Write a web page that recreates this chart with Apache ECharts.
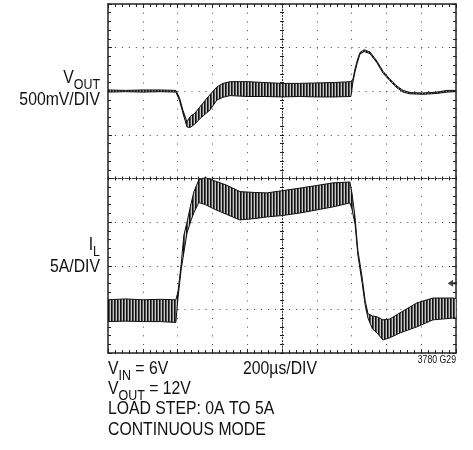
<!DOCTYPE html>
<html>
<head>
<meta charset="utf-8">
<script src="https://cdn.jsdelivr.net/npm/echarts@6/dist/echarts.min.js"></script>
<style>
  html, body { margin: 0; padding: 0; background: #fff; }
  #chart { width: 473px; height: 450px; }
</style>
</head>
<body>
<div id="chart"></div>
<script>
// scope screen: time in divisions (200us/div), level in divisions from the bottom
// each trace is read as a lower and upper envelope of its switching ripple
const voutTime = [0, 0.5, 1.0, 1.5, 1.95, 2.05, 2.16, 2.27, 2.36, 2.5, 2.64, 2.8, 2.93, 3.13, 3.3, 3.51, 4.0, 4.5, 5.0, 5.5, 6.0, 6.5, 6.98, 7.04, 7.10, 7.16, 7.24, 7.36, 7.53, 7.73, 7.90, 8.10, 8.30, 8.48, 8.68, 9.05, 9.45, 9.74, 10];
const voutLow  = [5.98, 5.99, 5.98, 5.99, 5.98, 5.80, 5.48, 5.18, 5.17, 5.25, 5.37, 5.48, 5.57, 5.80, 5.86, 5.90, 5.88, 5.88, 5.87, 5.88, 5.87, 5.87, 5.88, 6.22, 6.45, 6.64, 6.85, 6.91, 6.86, 6.65, 6.42, 6.24, 6.08, 5.98, 5.94, 5.93, 5.95, 5.98, 5.99];
const voutHigh = [6.03, 6.02, 6.03, 6.03, 6.02, 5.86, 5.55, 5.30, 5.42, 5.50, 5.64, 5.80, 5.92, 6.10, 6.18, 6.22, 6.22, 6.20, 6.18, 6.18, 6.19, 6.20, 6.22, 6.28, 6.52, 6.70, 6.89, 6.95, 6.90, 6.69, 6.46, 6.28, 6.12, 6.02, 5.97, 5.96, 5.98, 6.02, 6.02];

const ilTime = [0, 0.5, 1.0, 1.5, 1.95, 2.01, 2.10, 2.18, 2.27, 2.39, 2.47, 2.61, 2.8, 3.05, 3.4, 3.79, 4.2, 4.57, 5.0, 5.52, 6.0, 6.47, 6.95, 7.01, 7.10, 7.18, 7.30, 7.39, 7.47, 7.60, 7.73, 7.90, 8.1, 8.39, 8.88, 9.34, 9.91, 10];
const ilLow  = [0.72, 0.73, 0.72, 0.72, 0.70, 1.25, 1.90, 2.30, 2.75, 3.05, 3.22, 3.45, 3.40, 3.30, 3.18, 3.05, 3.08, 3.12, 3.15, 3.21, 3.28, 3.35, 3.44, 3.30, 2.95, 2.25, 1.62, 1.10, 0.80, 0.55, 0.46, 0.30, 0.35, 0.46, 0.60, 0.76, 0.80, 0.80];
const ilHigh = [1.22, 1.24, 1.22, 1.23, 1.22, 1.40, 2.02, 2.70, 3.00, 3.44, 3.70, 3.97, 4.02, 3.95, 3.85, 3.70, 3.68, 3.67, 3.72, 3.78, 3.84, 3.90, 3.92, 3.67, 3.10, 2.35, 1.75, 1.20, 0.90, 0.85, 0.83, 0.76, 0.78, 0.92, 1.15, 1.26, 1.26, 1.25];

const groundMarker = [9.89, 1.6];

// striped fill so the ripple band reads like a dense trace
const hatch = document.createElement('canvas');
hatch.width = 3;
hatch.height = 1;
const hctx = hatch.getContext('2d');
['#111', '#555', '#c8c8c8'].forEach((c, i) => {
  hctx.fillStyle = c;
  hctx.fillRect(i, 0, 1, 1);
});
const ripplePattern = { type: 'pattern', image: hatch, repeat: 'repeat' };

// band between the envelopes, drawn as one polygon through the axes
function band(time, low, high) {
  return {
    type: 'custom',
    silent: true,
    animation: false,
    data: time.map((t, k) => [t, low[k], high[k]]),
    renderItem(params, api) {
      if (params.dataIndexInside !== 0) return null;
      const n = params.dataInsideLength;
      const pts = [];
      for (let k = 0; k < n; k++) pts.push(api.coord([api.value(0, k), api.value(2, k)]));
      for (let k = n - 1; k >= 0; k--) pts.push(api.coord([api.value(0, k), api.value(1, k)]));
      return { type: 'polygon', shape: { points: pts }, style: { fill: ripplePattern, stroke: null } };
    }
  };
}

function edge(time, values) {
  return {
    type: 'line', symbol: 'none', silent: true, animation: false,
    data: time.map((t, k) => [t, values[k]]),
    lineStyle: { color: '#111', width: 1 }
  };
}

const frameLine = { show: true, onZero: false, lineStyle: { color: '#222', width: 1.5 } };
const centerLineX = { show: true, onZero: false, lineStyle: { color: '#333', width: 1, type: [2, 1.48] } };
const centerLineY = { show: true, onZero: false, lineStyle: { color: '#333', width: 1, type: [1, 1.9] } };
const tickStyle = { color: '#222', width: 1 };

function axis(extra) {
  return Object.assign({
    type: 'value',
    axisLabel: { show: false },
    axisTick: { show: true, inside: true, length: 4, lineStyle: tickStyle },
    minorTick: { show: true, splitNumber: 5, length: 3, lineStyle: tickStyle },
    splitLine: { show: false }
  }, extra);
}

const xRange = { min: 0, max: 10, interval: 1 };
const yRange = { min: 0, max: 8, interval: 1 };
const centerTicks = { show: true, inside: true, length: 2, lineStyle: tickStyle };

const sans = "'Liberation Sans', Arial, sans-serif";
const rich = {
  m: { fontSize: 19, fontFamily: sans, lineHeight: 24, verticalAlign: 'top', fill: '#111' },
  s: { fontSize: 15, fontFamily: sans, lineHeight: 24, verticalAlign: 'bottom', fill: '#111' }
};
function label(text, x, y, align) {
  return {
    type: 'text', x: x, y: y, scaleX: 0.83, silent: true,
    style: { text: text, rich: rich, align: align || 'left', textAlign: align || 'left', verticalAlign: 'top', textVerticalAlign: 'top', fill: '#111' }
  };
}

const chart = echarts.init(document.getElementById('chart'));
chart.setOption({
  backgroundColor: '#fff',
  animation: false,
  grid: { left: 108, top: 4, width: 348, height: 349 },
  xAxis: [
    axis(Object.assign({ position: 'bottom', axisLine: frameLine,
      splitLine: { show: true, lineStyle: { color: '#444', width: 1, type: [1, 7.72] } } }, xRange)),
    axis(Object.assign({ position: 'top', axisLine: frameLine }, xRange)),
    axis(Object.assign({ position: 'bottom', offset: -174.5, axisLine: centerLineX, axisTick: centerTicks,
      minorTick: Object.assign({ splitNumber: 5 }, centerTicks) }, xRange)),
    axis(Object.assign({ position: 'top', offset: -174.5, axisLine: centerLineX, axisTick: centerTicks,
      minorTick: Object.assign({ splitNumber: 5 }, centerTicks) }, xRange))
  ],
  yAxis: [
    axis(Object.assign({ position: 'left', axisLine: frameLine,
      splitLine: { show: true, lineStyle: { color: '#444', width: 1, type: [1, 5.96] } } }, yRange)),
    axis(Object.assign({ position: 'right', axisLine: frameLine }, yRange)),
    axis(Object.assign({ position: 'left', offset: -174, axisLine: centerLineY, axisTick: centerTicks,
      minorTick: Object.assign({ splitNumber: 5 }, centerTicks) }, yRange)),
    axis(Object.assign({ position: 'right', offset: -174, axisLine: centerLineY, axisTick: centerTicks,
      minorTick: Object.assign({ splitNumber: 5 }, centerTicks) }, yRange))
  ],
  series: [
    band(voutTime, voutLow, voutHigh),
    edge(voutTime, voutLow),
    edge(voutTime, voutHigh),
    band(ilTime, ilLow, ilHigh),
    edge(ilTime, ilLow),
    edge(ilTime, ilHigh),
    {
      type: 'scatter', data: [groundMarker], silent: true,
      symbol: 'path://M0,5 L6,0 L6,3.5 L10,3.5 L10,6.5 L6,6.5 L6,10 Z',
      symbolSize: [9, 7], itemStyle: { color: '#111' }
    }
  ],
  graphic: [
    label('{m|V}{s|OUT}', 100, 68, 'right'),
    label('{m|500mV/DIV}', 100, 90, 'right'),
    label('{m|I}{s|L}', 100, 235, 'right'),
    label('{m|5A/DIV}', 100, 257, 'right'),
    label('{m|V}{s|IN}{m| = 6V}', 108, 359),
    label('{m|200µs/DIV}', 243, 359),
    label('{m|V}{s|OUT}{m| = 12V}', 108, 379),
    label('{m|LOAD STEP: 0A TO 5A}', 108, 399),
    label('{m|CONTINUOUS MODE}', 108, 420),
    {
      type: 'text', x: 456, y: 355, scaleX: 0.87, silent: true,
      style: { text: '3780 G29', font: '10px ' + sans, align: 'right', textAlign: 'right', verticalAlign: 'top', textVerticalAlign: 'top', fill: '#111' }
    }
  ]
});
</script>
</body>
</html>
